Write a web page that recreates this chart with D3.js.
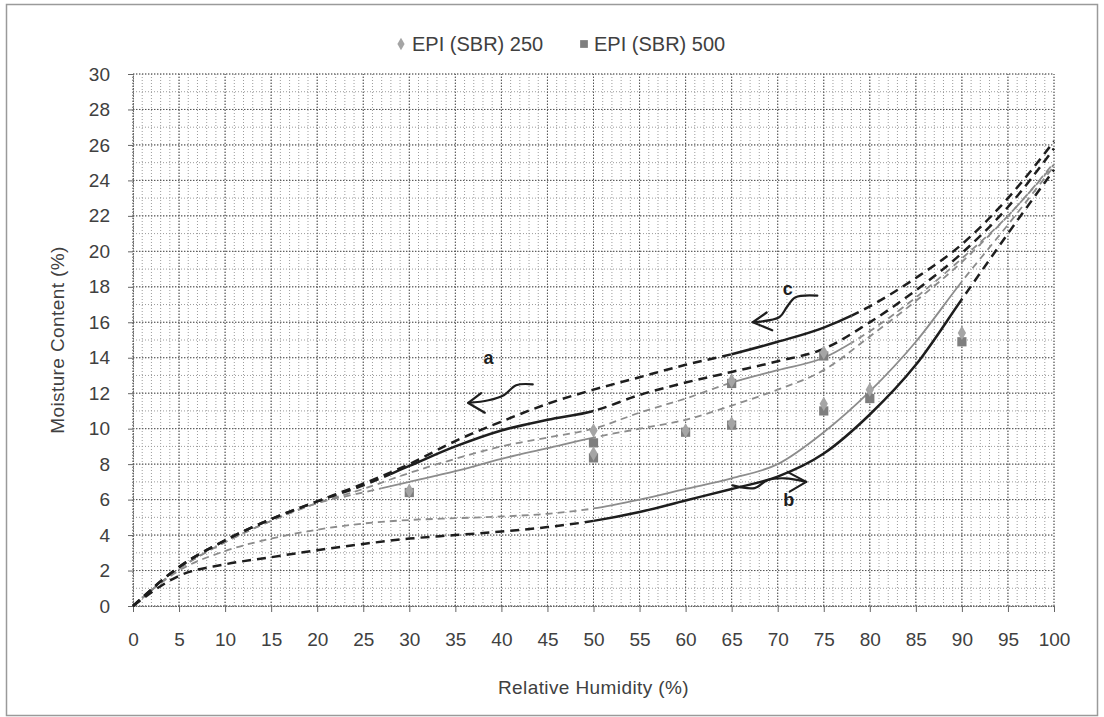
<!DOCTYPE html>
<html>
<head>
<meta charset="utf-8">
<script src="https://cdn.jsdelivr.net/npm/d3@7"></script>
<style>
  body { margin: 0; background: #fff; }
  text { font-family: "Liberation Sans", Arial, sans-serif; }
</style>
</head>
<body>
<script>
// relative humidity grid used by every fitted curve
var rh = [0, 5, 10, 15, 20, 25, 30, 35, 40, 45, 50, 55, 60, 65, 70, 75, 80, 85, 90, 95, 100];

// fitted isotherm curves (moisture content %)
var blackDesorbC = [0, 2.2, 3.7, 4.9, 5.9, 6.9, 8.0, 9.3, 10.4, 11.4, 12.2, 12.9, 13.6, 14.2, 14.9, 15.7, 16.9, 18.5, 20.4, 23.0, 26.2];
var blackDesorbA = [0, 2.2, 3.7, 4.9, 5.9, 6.8, 7.9, 9.0, 9.9, 10.5, 11.0, 11.9, 12.6, 13.2, 13.8, 14.5, 16.0, 17.8, 19.9, 22.5, 25.8];
var grayDesorbC  = [0, 2.1, 3.6, 4.8, 5.8, 6.6, 7.5, 8.3, 9.0, 9.5, 10.0, 10.9, 11.7, 12.6, 13.3, 14.0, 15.5, 17.4, 19.6, 22.0, 25.0];
var grayDesorbA  = [0, 2.1, 3.6, 4.8, 5.8, 6.4, 7.0, 7.6, 8.3, 8.9, 9.5, 10.0, 10.5, 11.3, 12.2, 13.3, 15.2, 17.2, 19.4, 22.0, 24.9];
var grayAdsorb   = [0, 2.0, 3.1, 3.8, 4.3, 4.65, 4.85, 4.95, 5.05, 5.2, 5.5, 6.0, 6.6, 7.2, 8.0, 9.8, 12.1, 14.9, 18.3, 21.5, 24.8];
var blackAdsorb  = [0, 1.7, 2.35, 2.75, 3.15, 3.5, 3.8, 4.0, 4.2, 4.45, 4.8, 5.3, 5.95, 6.6, 7.3, 8.6, 10.8, 13.6, 17.3, 21.0, 24.6];

// measured points
var epi250X = [30, 50, 50, 60, 65, 65, 75, 75, 80, 90];
var epi250Y = [6.5, 9.9, 8.6, 9.9, 12.7, 10.3, 14.3, 11.4, 12.2, 15.4];
var epi500X = [30, 50, 50, 60, 65, 65, 75, 75, 80, 90];
var epi500Y = [6.4, 9.2, 8.35, 9.8, 12.55, 10.2, 14.1, 11.0, 11.7, 14.9];

var xTicks = d3.range(0, 101, 5);
var yTicks = d3.range(0, 31, 2);
var seriesNames = ['EPI (SBR) 250', 'EPI (SBR) 500'];

var width = 1104, height = 717;

var svg = d3.select('body').append('svg')
    .attr('width', width)
    .attr('height', height);

var x = d3.scaleLinear().domain([0, 100]).range([133, 1054]);
var y = d3.scaleLinear().domain([0, 30]).range([606, 74]);

// outer frame
svg.append('rect')
  .attr('x', 6.5).attr('y', 4.5)
  .attr('width', 1091).attr('height', 711)
  .attr('fill', 'none')
  .attr('stroke', '#9a9a9a')
  .attr('stroke-width', 1.5);

// grid: minor every 1 unit, major on the ticks
var grid = svg.append('g');
grid.selectAll('.vmin').data(d3.range(0, 101, 1)).enter().append('line')
  .attr('x1', function(d) { return x(d); }).attr('x2', function(d) { return x(d); })
  .attr('y1', y(0)).attr('y2', y(30))
  .attr('stroke', '#9c9c9c').attr('stroke-dasharray', '1,2');
grid.selectAll('.hmin').data(d3.range(0, 31, 1)).enter().append('line')
  .attr('y1', function(d) { return y(d); }).attr('y2', function(d) { return y(d); })
  .attr('x1', x(0)).attr('x2', x(100))
  .attr('stroke', '#9c9c9c').attr('stroke-dasharray', '1,2');
grid.selectAll('.vmaj').data(xTicks).enter().append('line')
  .attr('x1', function(d) { return x(d); }).attr('x2', function(d) { return x(d); })
  .attr('y1', y(0)).attr('y2', y(30))
  .attr('stroke', '#555').attr('stroke-dasharray', '1.5,1.5');
grid.selectAll('.hmaj').data(yTicks).enter().append('line')
  .attr('y1', function(d) { return y(d); }).attr('y2', function(d) { return y(d); })
  .attr('x1', x(0)).attr('x2', x(100))
  .attr('stroke', '#555').attr('stroke-dasharray', '1.5,1.5');

// axes
var xAxis = svg.append('g')
  .attr('transform', 'translate(0,' + y(0) + ')')
  .call(d3.axisBottom(x).tickValues(xTicks).tickSize(6).tickPadding(21));
var yAxis = svg.append('g')
  .attr('transform', 'translate(' + x(0) + ',0)')
  .call(d3.axisLeft(y).tickValues(yTicks).tickSize(5).tickPadding(18));
[xAxis, yAxis].forEach(function(a) {
  a.select('.domain').attr('stroke', '#666').attr('stroke-dasharray', '1.5,1');
  a.selectAll('.tick line').attr('stroke', '#666');
  a.selectAll('.tick text')
    .attr('fill', '#404040')
    .style('font-size', '19px')
    .style('font-family', '"Liberation Sans", Arial, sans-serif');
});

svg.append('text')
  .attr('x', (x(0) + x(100)) / 2).attr('y', 694)
  .attr('text-anchor', 'middle')
  .attr('fill', '#404040')
  .style('font-size', '19px')
  .style('letter-spacing', '0.4px')
  .text('Relative Humidity (%)');

svg.append('text')
  .attr('transform', 'translate(64,' + (y(15)) + ') rotate(-90)')
  .attr('text-anchor', 'middle')
  .attr('fill', '#404040')
  .style('font-size', '19px')
  .style('letter-spacing', '0.4px')
  .text('Moisture Content (%)');

// curves: dashed outside the measured range, solid inside it
var defs = svg.append('defs');
var curves = [
  {ys: grayAdsorb,   solid: [50, 90], color: '#8c8c8c', w: 1.8, dash: '7,5'},
  {ys: grayDesorbA,  solid: [27, 50], color: '#8c8c8c', w: 1.8, dash: '7,5'},
  {ys: grayDesorbC,  solid: [65, 78], color: '#8c8c8c', w: 1.8, dash: '7,5'},
  {ys: blackAdsorb,  solid: [50, 90], color: '#1e1e1e', w: 2.5, dash: '9,6'},
  {ys: blackDesorbA, solid: [28, 50], color: '#1e1e1e', w: 2.5, dash: '9,6'},
  {ys: blackDesorbC, solid: [65, 78], color: '#1e1e1e', w: 2.5, dash: '9,6'}
];

var line = d3.line()
  .x(function(d) { return x(d[0]); })
  .y(function(d) { return y(d[1]); })
  .curve(d3.curveMonotoneX);

curves.forEach(function(c, i) {
  var pts = rh.map(function(r, j) { return [r, c.ys[j]]; });
  var inId = 'cin' + i, outId = 'cout' + i;
  defs.append('clipPath').attr('id', inId).append('rect')
    .attr('x', x(c.solid[0])).attr('y', 0)
    .attr('width', x(c.solid[1]) - x(c.solid[0])).attr('height', height);
  var out = defs.append('clipPath').attr('id', outId);
  out.append('rect').attr('x', 0).attr('y', 0)
    .attr('width', x(c.solid[0])).attr('height', height);
  out.append('rect').attr('x', x(c.solid[1])).attr('y', 0)
    .attr('width', width - x(c.solid[1])).attr('height', height);

  svg.append('path').datum(pts)
    .attr('d', line)
    .attr('fill', 'none')
    .attr('stroke', c.color)
    .attr('stroke-width', c.w)
    .attr('stroke-dasharray', c.dash)
    .attr('clip-path', 'url(#' + outId + ')');
  svg.append('path').datum(pts)
    .attr('d', line)
    .attr('fill', 'none')
    .attr('stroke', c.color)
    .attr('stroke-width', c.w)
    .attr('clip-path', 'url(#' + inId + ')');
});

// measured points
var diamond = d3.symbol().type(d3.symbolDiamond).size(60);
var square = d3.symbol().type(d3.symbolSquare).size(85);

svg.append('g').selectAll('path')
  .data(epi500X.map(function(v, i) { return [v, epi500Y[i]]; }))
  .enter().append('path')
  .attr('d', square)
  .attr('transform', function(d) { return 'translate(' + x(d[0]) + ',' + y(d[1]) + ')'; })
  .attr('fill', '#7e7e7e');

svg.append('g').selectAll('path')
  .data(epi250X.map(function(v, i) { return [v, epi250Y[i]]; }))
  .enter().append('path')
  .attr('d', diamond)
  .attr('transform', function(d) { return 'translate(' + x(d[0]) + ',' + y(d[1]) + ')'; })
  .attr('fill', '#a5a5a5');

// legend
var legend = svg.append('g').attr('transform', 'translate(401,44)');
legend.append('path').attr('d', d3.symbol().type(d3.symbolDiamond).size(45))
  .attr('fill', '#a5a5a5');
legend.append('text').attr('x', 11).attr('y', 7)
  .attr('fill', '#404040').style('font-size', '20px').text(seriesNames[0]);
legend.append('path').attr('d', d3.symbol().type(d3.symbolSquare).size(60))
  .attr('transform', 'translate(183,0)')
  .attr('fill', '#7e7e7e');
legend.append('text').attr('x', 193).attr('y', 7)
  .attr('fill', '#404040').style('font-size', '20px').text(seriesNames[1]);

// hand-drawn arrows and labels (in data units)
var arrows = [
  {shaft: [[43.4, 12.5], [41.6, 12.45], [40.3, 11.9], [38.6, 11.6], [36.4, 11.45]],
   head: [[37.8, 12.0], [36.4, 11.45], [38.2, 10.9]]},
  {shaft: [[74.3, 17.5], [71.9, 17.4], [71.0, 16.86], [70.2, 16.3], [67.3, 16.0]],
   head: [[68.8, 16.55], [67.3, 16.0], [69.4, 15.55]]},
  {shaft: [[65.1, 6.8], [67.5, 6.65], [68.9, 7.1], [70.8, 7.2], [73.1, 7.0]],
   head: [[71.1, 7.55], [73.1, 7.0], [71.3, 6.45]]}
];
var free = d3.line()
  .x(function(d) { return x(d[0]); })
  .y(function(d) { return y(d[1]); });

arrows.forEach(function(a) {
  svg.append('path').datum(a.shaft)
    .attr('d', free.curve(d3.curveCatmullRom))
    .attr('fill', 'none').attr('stroke', '#1e1e1e').attr('stroke-width', 2.2)
    .attr('stroke-linecap', 'round');
  svg.append('path').datum(a.head)
    .attr('d', free.curve(d3.curveLinear))
    .attr('fill', 'none').attr('stroke', '#1e1e1e').attr('stroke-width', 2.2)
    .attr('stroke-linecap', 'round').attr('stroke-linejoin', 'round');
});

var labels = [
  {t: 'a', at: [38.6, 14.0]},
  {t: 'c', at: [71.1, 17.9]},
  {t: 'b', at: [71.2, 6.0]}
];
svg.append('g').selectAll('text').data(labels).enter().append('text')
  .attr('x', function(d) { return x(d.at[0]); })
  .attr('y', function(d) { return y(d.at[1]); })
  .attr('dy', '0.35em')
  .attr('text-anchor', 'middle')
  .attr('fill', '#1e1e1e')
  .style('font-size', '18px')
  .style('font-weight', 'bold')
  .text(function(d) { return d.t; });
</script>
</body>
</html>
